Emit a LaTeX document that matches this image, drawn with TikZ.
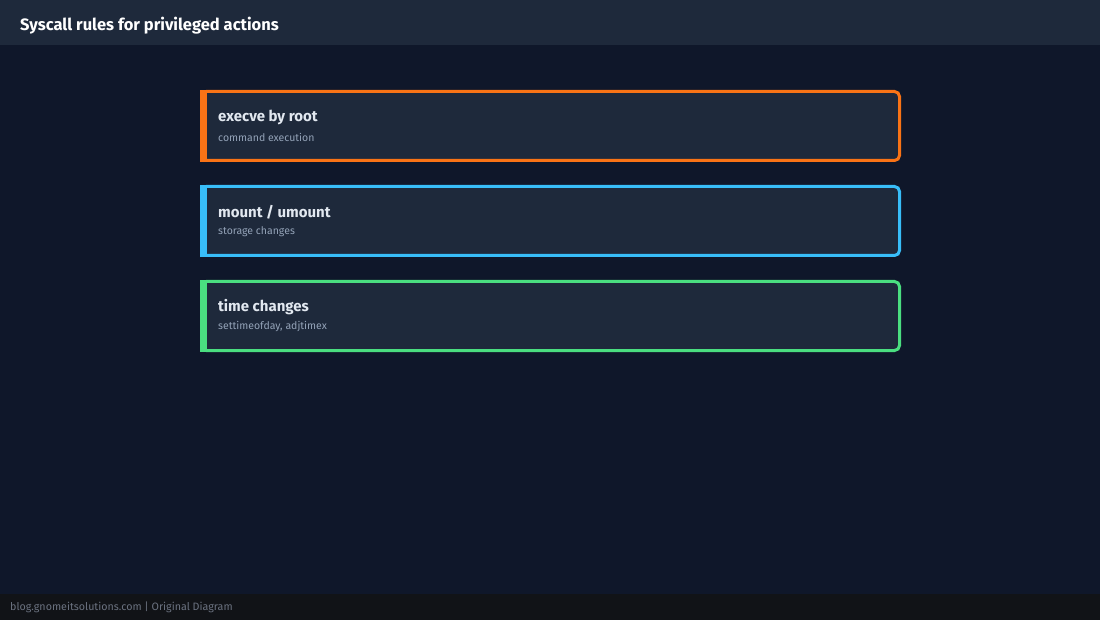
\documentclass[tikz,border=0pt]{standalone}
\usepackage{fontspec}
\setmainfont{Fira Sans}
\usepackage{xcolor}
\usetikzlibrary{positioning,calc}

\definecolor{pagebg}{HTML}{0F172A}
\definecolor{barbg}{HTML}{1E293B}
\definecolor{footbg}{HTML}{111317}
\definecolor{cardbg}{HTML}{1E293B}
\definecolor{titletext}{HTML}{E2E8F0}
\definecolor{subtext}{HTML}{94A3B8}
\definecolor{foottext}{HTML}{6B7280}
\definecolor{execorange}{HTML}{F97316}
\definecolor{mountblue}{HTML}{38BDF8}
\definecolor{timegreen}{HTML}{4ADE80}

\begin{document}
\begin{tikzpicture}[x=1pt,y=-1pt,
    card/.style={draw=#1, fill=cardbg, line width=3pt, rounded corners=5pt,
        minimum width=698pt, minimum height=69pt, inner sep=0pt, outer sep=0pt},
    cardtitle/.style={anchor=west, inner sep=0pt, text=titletext, font=\bfseries\fontsize{15}{18}\selectfont},
    cardsub/.style={anchor=west, inner sep=0pt, text=subtext, font=\fontsize{10.5}{12}\selectfont}]

    % Background and bars
    \fill[pagebg] (0,0) rectangle (1100,620);
    \useasboundingbox (0,0) rectangle (1100,620);
    \fill[barbg] (0,0) rectangle (1100,45);
    \fill[footbg] (0,594) rectangle (1100,620);
    \node[anchor=west, inner sep=0pt, text=white, font=\bfseries\fontsize{16.5}{20}\selectfont]
        (heading) at (20,25.5) {Syscall rules for privileged actions};
    \node[anchor=west, inner sep=0pt, text=foottext, font=\fontsize{10.7}{12}\selectfont]
        (credit) at (10,607) {blog.gnomeitsolutions.com | Original Diagram};

    % execve card
    \node[card=execorange] (execve) at (550.5,126) {};
    \fill[execorange] (200,90) rectangle (207,162);
    \node[cardtitle] (execvetitle) at ($(execve.north west)+(16.5,25.5)$) {execve by root};
    \node[cardsub] (execvesub) at ($(execve.north west)+(16.5,45.5)$) {command execution};

    % mount card
    \node[card=mountblue] (mount) at (550.5,221) {};
    \fill[mountblue] (200,185) rectangle (207,257);
    \node[cardtitle] (mounttitle) at ($(mount.north west)+(16.5,25.5)$) {mount / umount};
    \node[cardsub] (mountsub) at ($(mount.north west)+(16.5,45.5)$) {storage changes};

    % time card
    \node[card=timegreen] (time) at (550.5,316) {};
    \fill[timegreen] (200,280) rectangle (207,352);
    \node[cardtitle] (timetitle) at ($(time.north west)+(16.5,25.5)$) {time changes};
    \node[cardsub] (timesub) at ($(time.north west)+(16.5,45.5)$) {settimeofday, adjtimex};

\end{tikzpicture}
\end{document}
